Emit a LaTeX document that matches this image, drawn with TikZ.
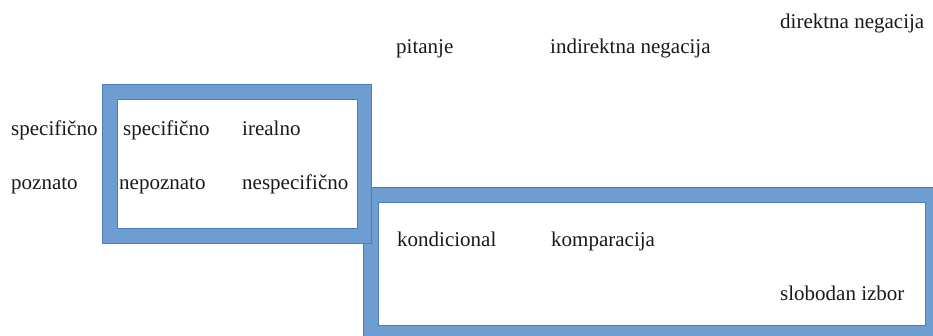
\documentclass[tikz,border=0pt]{standalone}
\usepackage{fontspec}
\setmainfont{Liberation Serif}[Ligatures=NoCommon]
\definecolor{frameblue}{HTML}{6E9DD1}
\definecolor{frameedge}{HTML}{4A7DBA}
\begin{document}
\begin{tikzpicture}[x=1pt,y=-1pt,
  lbl/.style={anchor=base west,inner sep=0pt,font=\fontsize{21}{25}\selectfont,text=black!90},
  frame/.style={fill=frameblue,draw=frameedge,line width=0.8pt,even odd rule}]
\useasboundingbox (0,0) rectangle (933,335);
\clip (0,0) rectangle (933,335);
% frames
\path[frame] (363,187) rectangle (942,342) (378,202) rectangle (925,325);
\path[frame] (102,84) rectangle (371,243) (117,99) rectangle (357,228);
% labels
\node[lbl] (dirneg) at (780,28) {direktna negacija};
\node[lbl] (pit) at (396,53) {pitanje};
\node[lbl] (indneg) at (550,53) {indirektna negacija};
\node[lbl] (spec1) at (11,135) {specifično};
\node[lbl] (spec2) at (123,135) {specifično};
\node[lbl] (ireal) at (242,135) {irealno};
\node[lbl] (pozn) at (11,189) {poznato};
\node[lbl] (nepozn) at (119,189) {nepoznato};
\node[lbl] (nespec) at (242,189) {nespecifično};
\node[lbl] (kond) at (397,246) {kondicional};
\node[lbl] (komp) at (551,246) {komparacija};
\node[lbl] (slob) at (780,300) {slobodan izbor};
\end{tikzpicture}
\end{document}
